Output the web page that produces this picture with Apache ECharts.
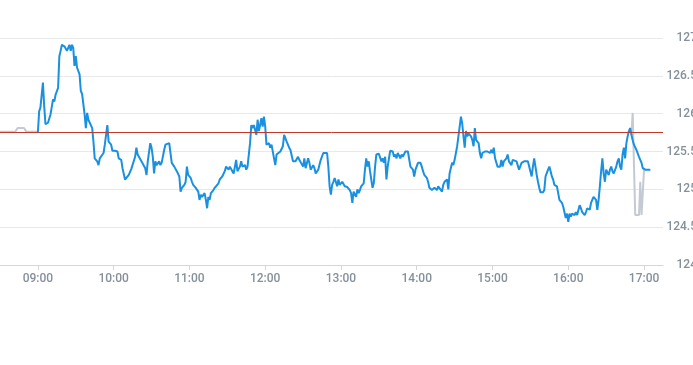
<!DOCTYPE html>
<html>
<head>
<meta charset="utf-8">
<script src="https://cdn.jsdelivr.net/npm/echarts@6/dist/echarts.min.js"></script>
<style>html,body{margin:0;padding:0;background:#fff}#c{width:693px;height:365px}</style>
</head>
<body>
<div id="c"></div>
<script>
// ---- data ----
const blueTimes = ["09:00","09:01","09:02","09:04","09:05","09:06","09:08","09:10","09:12","09:13","09:14","09:16","09:17","09:18","09:19","09:21","09:22","09:23","09:25","09:26","09:27","09:28","09:29","09:30","09:31","09:33","09:34","09:35","09:36","09:37","09:38","09:39","09:40","09:41","09:43","09:44","09:45","09:47","09:48","09:49","09:50","09:52","09:53","09:54","09:55","09:56","09:58","09:59","10:01","10:03","10:04","10:06","10:07","10:08","10:09","10:12","10:14","10:15","10:17","10:18","10:19","10:20","10:22","10:23","10:25","10:26","10:27","10:29","10:30","10:31","10:32","10:33","10:34","10:36","10:37","10:38","10:40","10:41","10:42","10:44","10:45","10:46","10:48","10:49","10:50","10:52","10:53","10:54","10:56","10:57","10:58","10:59","11:01","11:02","11:03","11:05","11:07","11:08","11:09","11:10","11:12","11:13","11:14","11:15","11:16","11:17","11:19","11:20","11:23","11:24","11:26","11:28","11:29","11:31","11:32","11:34","11:35","11:37","11:38","11:40","11:41","11:42","11:44","11:45","11:46","11:48","11:49","11:50","11:51","11:53","11:54","11:55","11:56","11:57","11:58","11:59","12:00","12:01","12:03","12:04","12:05","12:07","12:08","12:09","12:10","12:12","12:13","12:14","12:15","12:17","12:18","12:19","12:20","12:22","12:23","12:24","12:26","12:27","12:28","12:30","12:31","12:32","12:34","12:35","12:36","12:38","12:39","12:40","12:42","12:43","12:44","12:46","12:47","12:49","12:50","12:51","12:52","12:53","12:54","12:55","12:57","12:58","12:59","13:01","13:02","13:03","13:05","13:06","13:07","13:08","13:09","13:10","13:12","13:13","13:14","13:15","13:16","13:18","13:19","13:20","13:21","13:22","13:23","13:24","13:25","13:26","13:27","13:28","13:30","13:31","13:32","13:33","13:34","13:35","13:36","13:37","13:38","13:39","13:41","13:42","13:43","13:44","13:45","13:47","13:48","13:49","13:51","13:52","13:53","13:54","13:55","13:56","13:57","13:58","13:59","14:01","14:02","14:03","14:04","14:05","14:06","14:08","14:09","14:10","14:12","14:13","14:14","14:16","14:17","14:18","14:20","14:21","14:22","14:24","14:25","14:26","14:28","14:29","14:30","14:32","14:33","14:34","14:35","14:36","14:37","14:38","14:39","14:40","14:41","14:43","14:44","14:45","14:46","14:47","14:48","14:49","14:50","14:51","14:52","14:54","14:55","14:56","14:58","14:59","15:00","15:01","15:02","15:03","15:04","15:06","15:07","15:08","15:09","15:11","15:12","15:13","15:15","15:16","15:17","15:19","15:20","15:21","15:23","15:24","15:25","15:28","15:29","15:31","15:32","15:33","15:34","15:35","15:36","15:37","15:38","15:40","15:41","15:42","15:44","15:45","15:46","15:47","15:48","15:49","15:51","15:52","15:53","15:55","15:56","15:57","15:58","15:59","16:00","16:01","16:02","16:03","16:05","16:06","16:07","16:09","16:10","16:11","16:13","16:14","16:15","16:17","16:18","16:19","16:20","16:22","16:23","16:24","16:25","16:26","16:27","16:28","16:29","16:30","16:31","16:32","16:33","16:34","16:35","16:36","16:38","16:39","16:40","16:41","16:42","16:43","16:44","16:45","16:46","16:47","16:48","16:49","16:50","16:51","16:52","16:54","16:56","16:58","16:59","17:01","17:05"];
const bluePrices = [125.75,126.03,126.08,126.41,126.10,125.86,125.88,125.99,126.19,126.16,126.25,126.34,126.76,126.83,126.91,126.89,126.91,126.83,126.91,126.83,126.91,126.87,126.63,126.76,126.61,126.52,126.30,126.26,126.25,125.99,125.81,126.01,125.92,125.94,125.81,125.63,125.41,125.37,125.32,125.41,125.39,125.48,125.59,125.72,125.85,125.63,125.59,125.51,125.51,125.50,125.41,125.39,125.28,125.26,125.13,125.19,125.27,125.26,125.43,125.55,125.46,125.44,125.37,125.35,125.28,125.19,125.37,125.61,125.55,125.43,125.21,125.37,125.32,125.37,125.32,125.35,125.52,125.59,125.61,125.61,125.61,125.35,125.30,125.30,125.24,125.17,124.97,125.02,125.06,125.10,125.30,125.19,125.15,125.10,125.06,125.02,124.97,124.86,124.93,124.90,124.95,124.86,124.75,124.90,124.86,124.95,124.99,125.02,125.08,125.13,125.17,125.24,125.30,125.26,125.30,125.24,125.21,125.39,125.24,125.30,125.37,125.30,125.32,125.26,125.30,125.61,125.85,125.81,125.85,125.72,125.92,125.77,125.85,125.94,125.83,125.96,125.83,125.59,125.61,125.55,125.59,125.41,125.32,125.46,125.48,125.50,125.52,125.57,125.72,125.63,125.61,125.55,125.52,125.37,125.39,125.37,125.43,125.39,125.41,125.30,125.41,125.28,125.41,125.35,125.26,125.32,125.28,125.21,125.26,125.24,125.39,125.48,125.50,125.48,125.30,125.04,124.93,125.06,125.10,125.15,125.04,125.13,125.06,125.10,125.08,125.04,125.03,125.02,124.99,124.95,124.82,124.97,124.90,125.00,124.95,124.99,125.04,125.08,125.26,125.41,125.30,125.37,125.24,125.13,125.02,125.08,125.30,125.46,125.47,125.46,125.37,125.41,125.35,125.43,125.13,125.30,125.41,125.51,125.50,125.43,125.46,125.41,125.48,125.41,125.46,125.43,125.50,125.48,125.50,125.51,125.30,125.32,125.26,125.17,125.26,125.35,125.37,125.35,125.30,125.24,125.19,125.15,125.10,125.02,124.99,124.97,125.02,124.99,125.04,125.04,124.97,125.06,125.10,125.13,125.00,125.21,125.35,125.32,125.39,125.57,125.70,125.83,125.96,125.87,125.70,125.55,125.77,125.70,125.74,125.70,125.65,125.57,125.81,125.65,125.65,125.61,125.48,125.41,125.48,125.50,125.48,125.50,125.48,125.52,125.48,125.55,125.41,125.39,125.30,125.30,125.39,125.30,125.37,125.41,125.46,125.37,125.32,125.39,125.41,125.37,125.35,125.26,125.35,125.37,125.37,125.37,125.37,125.17,125.30,125.41,125.30,125.19,125.10,125.02,124.96,124.96,124.99,125.17,125.26,125.30,125.24,125.17,125.13,125.06,125.04,124.95,124.86,124.82,124.77,124.75,124.62,124.68,124.57,124.68,124.64,124.68,124.66,124.70,124.66,124.79,124.75,124.70,124.66,124.70,124.75,124.73,124.82,124.86,124.90,124.86,124.73,124.86,125.04,125.24,125.41,125.21,125.10,125.26,125.24,125.19,125.26,125.30,125.24,125.21,125.30,125.37,125.41,125.30,125.26,125.46,125.55,125.41,125.61,125.70,125.77,125.81,125.72,125.65,125.59,125.52,125.43,125.35,125.28,125.26,125.26];

const preTimes = ["08:30","08:42","08:44","08:49","08:51","09:00"];
const prePrices = [125.76,125.76,125.81,125.81,125.76,125.76];
const postTimes = ["16:50","16:51","16:53","16:56","16:57","16:58","16:59","17:00","17:01"];
const postPrices = [125.72,126.01,124.66,124.66,125.10,124.66,124.66,125.26,125.26];

const prevClose = 125.75;
const xTickLabels = ["09:00","10:00","11:00","12:00","13:00","14:00","15:00","16:00","17:00"];
const xStart = "08:30", xEnd = "17:15";
const yMin = 124, yMax = 127, yStep = 0.5;

// ---- build ----
const toMin = s => { const p = s.split(':').map(Number); return p[0]*60 + p[1]; };
const pad = n => String(n).padStart(2,'0');
const fmt = v => pad(Math.floor(v/60)) + ':' + pad(v%60);
const zip = (t, v) => t.map((s, i) => [toMin(s), v[i]]);
const tickVals = xTickLabels.map(toMin);

const chart = echarts.init(document.getElementById('c'), null, {renderer: 'canvas'});
const labelFont = {color: '#85909b', fontSize: 12, fontWeight: 500, fontFamily: 'Roboto, Liberation Sans, Arial, sans-serif'};
chart.setOption({
  animation: false,
  grid: {left: 0, right: 30, top: 38, bottom: 100, containLabel: false, outerBoundsMode: 'none'},
  xAxis: {
    type: 'value', min: toMin(xStart), max: toMin(xEnd),
    splitLine: {show: false},
    axisLine: {show: true, lineStyle: {color: '#d3d6da', width: 1}},
    axisTick: {show: true, customValues: tickVals, length: 5, lineStyle: {color: '#d3d6da'}},
    axisLabel: Object.assign({customValues: tickVals, margin: 8, formatter: v => fmt(v), hideOverlap: false}, labelFont)
  },
  yAxis: {
    type: 'value', position: 'right', min: yMin, max: yMax, interval: yStep,
    splitLine: {show: true, lineStyle: {color: '#e6e8ea', width: 1}},
    axisLine: {show: false}, axisTick: {show: false},
    axisLabel: Object.assign({margin: 34, align: 'right', hideOverlap: false}, labelFont)
  },
  series: [
    {type: 'line', data: zip(preTimes, prePrices), showSymbol: false, lineStyle: {color: '#c3cad3', width: 2}, itemStyle: {color: '#c3cad3'}, z: 1},
    {type: 'line', data: zip(postTimes, postPrices), showSymbol: false, lineStyle: {color: '#c3cad3', width: 2}, itemStyle: {color: '#c3cad3'}, z: 1},
    {type: 'line', data: zip(blueTimes, bluePrices), showSymbol: false, lineStyle: {color: '#1a90e0', width: 2}, itemStyle: {color: '#1a90e0'}, z: 3,
     markLine: {silent: true, symbol: ['none','none'], label: {show: false}, lineStyle: {color: '#c0392b', width: 1, type: 'solid'}, data: [{yAxis: prevClose}]}}
  ]
});
</script>
</body>
</html>
